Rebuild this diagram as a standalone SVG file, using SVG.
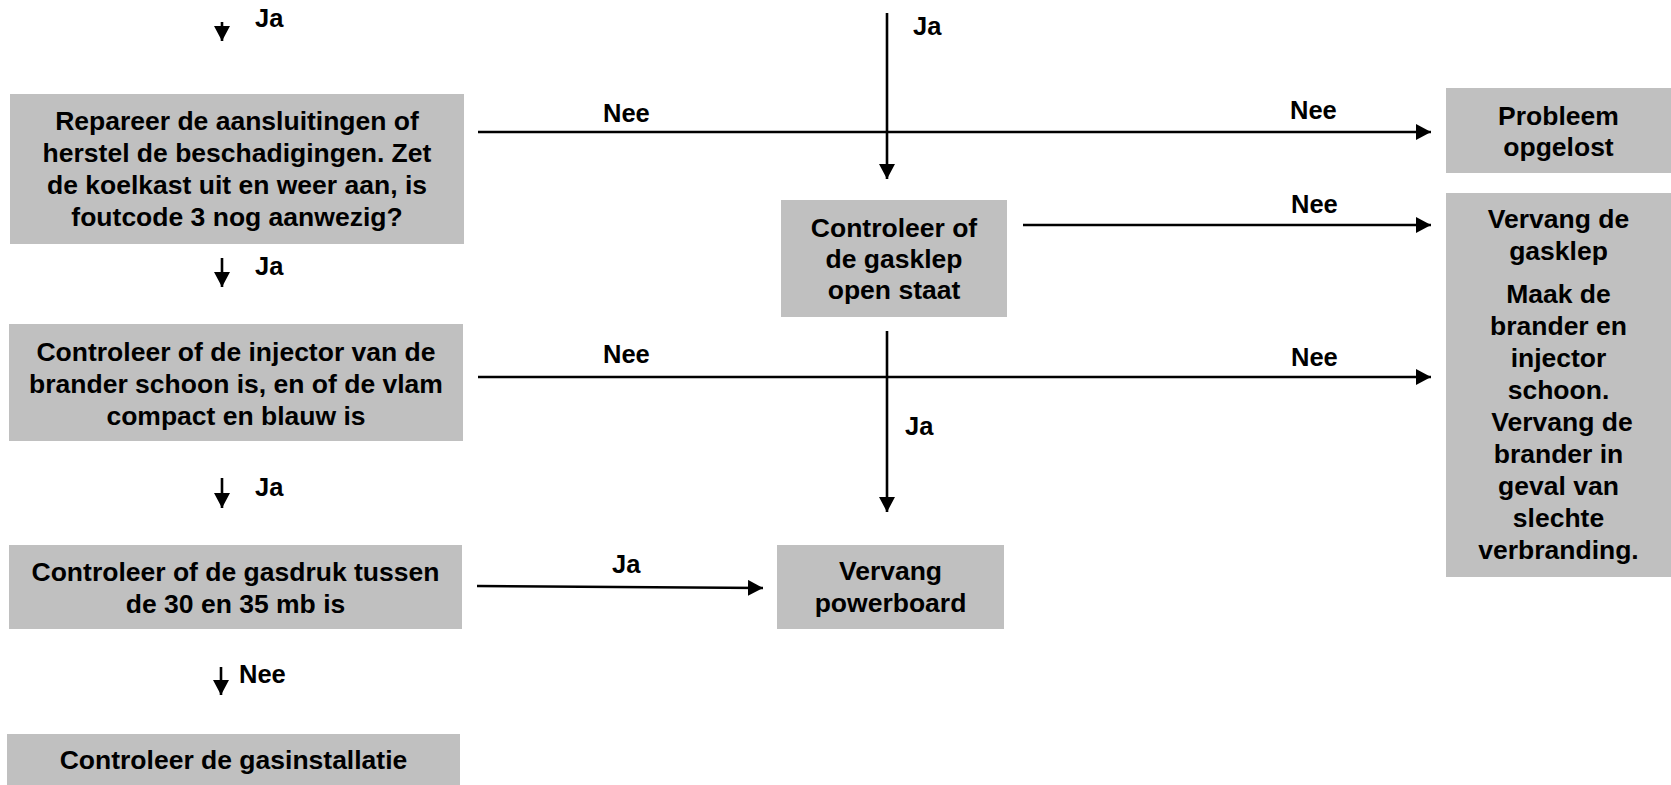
<svg xmlns="http://www.w3.org/2000/svg" width="1671" height="785" viewBox="0 0 1671 785">
<defs>
<marker id="ah" markerUnits="userSpaceOnUse" markerWidth="15" markerHeight="16" refX="15" refY="8" orient="auto">
<path d="M0,0 L15,8 L0,16 z" fill="#000"/>
</marker>
<style>
.box{fill:#c0c0c0;stroke:none}
text{font-family:"Liberation Sans",Arial,Helvetica,sans-serif;font-weight:bold;fill:#000}
.t{font-size:26.5px;text-anchor:middle}
.l{font-size:25.5px}
.c{stroke:#000;stroke-width:2.6;fill:none;marker-end:url(#ah)}
</style>
</defs>
<rect width="1671" height="785" fill="#fff"/>
<g id="connectors">
<line class="c" x1="222" y1="22" x2="222" y2="41"/>
<line class="c" x1="222" y1="258" x2="222" y2="287"/>
<line class="c" x1="222" y1="478" x2="222" y2="508"/>
<line class="c" x1="221" y1="667" x2="221" y2="695"/>
<line class="c" x1="887" y1="13" x2="887" y2="179"/>
<line class="c" x1="887" y1="331" x2="887" y2="512"/>
<line class="c" x1="478" y1="132" x2="1431" y2="132"/>
<line class="c" x1="1023" y1="225" x2="1431" y2="225"/>
<line class="c" x1="478" y1="377" x2="1431" y2="377"/>
<line class="c" x1="477" y1="586" x2="763" y2="588"/>
<text class="l" x="255" y="27">Ja</text>
<text class="l" x="255" y="275">Ja</text>
<text class="l" x="255" y="496">Ja</text>
<text class="l" x="239" y="683">Nee</text>
<text class="l" x="913" y="35">Ja</text>
<text class="l" x="603" y="122">Nee</text>
<text class="l" x="1290" y="119">Nee</text>
<text class="l" x="1291" y="213">Nee</text>
<text class="l" x="603" y="363">Nee</text>
<text class="l" x="1291" y="366">Nee</text>
<text class="l" x="905" y="435">Ja</text>
<text class="l" x="612" y="573">Ja</text>
</g>
<g id="n1">
<rect class="box" x="10" y="94" width="454" height="150"/>
<text class="t" x="237" y="130">Repareer de aansluitingen of</text>
<text class="t" x="237" y="162">herstel de beschadigingen. Zet</text>
<text class="t" x="237" y="194">de koelkast uit en weer aan, is</text>
<text class="t" x="237" y="226">foutcode 3 nog aanwezig?</text>
</g>
<g id="n2">
<rect class="box" x="9" y="324" width="454" height="117"/>
<text class="t" x="236" y="361">Controleer of de injector van de</text>
<text class="t" x="236" y="393">brander schoon is, en of de vlam</text>
<text class="t" x="236" y="425">compact en blauw is</text>
</g>
<g id="n3">
<rect class="box" x="9" y="545" width="453" height="84"/>
<text class="t" x="235.5" y="581">Controleer of de gasdruk tussen</text>
<text class="t" x="235.5" y="613">de 30 en 35 mb is</text>
</g>
<g id="n4">
<rect class="box" x="7" y="734" width="453" height="51"/>
<text class="t" x="233.5" y="769">Controleer de gasinstallatie</text>
</g>
<g id="n5">
<rect class="box" x="781" y="200" width="226" height="117"/>
<text class="t" x="894" y="237">Controleer of</text>
<text class="t" x="894" y="268">de gasklep</text>
<text class="t" x="894" y="299">open staat</text>
</g>
<g id="n6">
<rect class="box" x="777" y="545" width="227" height="84"/>
<text class="t" x="890.5" y="580">Vervang</text>
<text class="t" x="890.5" y="612">powerboard</text>
</g>
<g id="n7">
<rect class="box" x="1446" y="88" width="225" height="85"/>
<text class="t" x="1558.5" y="125">Probleem</text>
<text class="t" x="1558.5" y="156">opgelost</text>
</g>
<g id="n8">
<rect class="box" x="1446" y="193" width="225" height="384"/>
<text class="t" x="1558.5" y="228">Vervang de</text>
<text class="t" x="1558.5" y="260">gasklep</text>
<text class="t" x="1558.5" y="303">Maak de</text>
<text class="t" x="1558.5" y="335">brander en</text>
<text class="t" x="1558.5" y="367">injector</text>
<text class="t" x="1558.5" y="399">schoon.</text>
<text class="t" x="1562" y="431">Vervang de</text>
<text class="t" x="1558.5" y="463">brander in</text>
<text class="t" x="1558.5" y="495">geval van</text>
<text class="t" x="1558.5" y="527">slechte</text>
<text class="t" x="1558.5" y="559">verbranding.</text>
</g>
</svg>
